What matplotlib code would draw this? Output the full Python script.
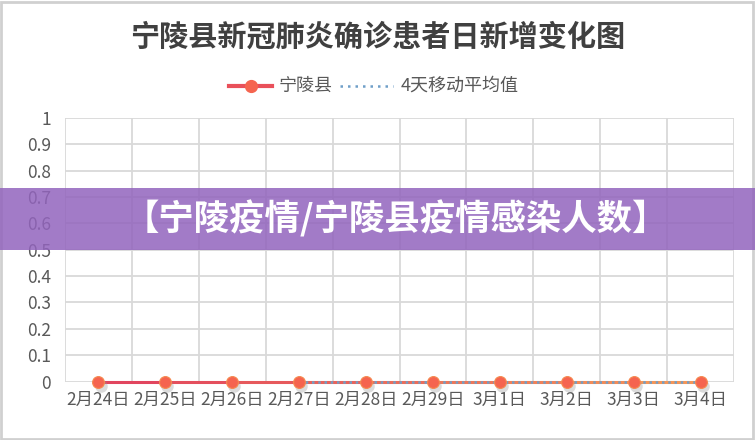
import numpy as np
import matplotlib
matplotlib.use("Agg")
import matplotlib.pyplot as plt
from matplotlib.patches import Rectangle
from matplotlib.lines import Line2D
from matplotlib.colors import to_rgb
import matplotlib.transforms as mtransforms

plt.rcParams['font.family'] = ['Noto Sans CJK SC', 'DejaVu Sans']

title = "宁陵县新冠肺炎确诊患者日新增变化图"
banner_text = "【宁陵疫情/宁陵县疫情感染人数】"
categories = ["2月24日", "2月25日", "2月26日", "2月27日", "2月28日",
              "2月29日", "3月1日", "3月2日", "3月3日", "3月4日"]
county_values = [0, 0, 0, 0, 0, 0, 0, 0, 0, 0]
moving_avg = [np.nan, np.nan, np.nan, 0, 0, 0, 0, 0, 0, 0]
y_ticks = [0, 0.1, 0.2, 0.3, 0.4, 0.5, 0.6, 0.7, 0.8, 0.9, 1]
y_tick_labels = ["0", "0.1", "0.2", "0.3", "0.4", "0.5", "0.6", "0.7", "0.8", "0.9", "1"]

W, H = 755, 440
fig = plt.figure(figsize=(W / 100, H / 100), dpi=100)
fig.patch.set_facecolor("white")

# outer frame
fig.patches.append(Rectangle((1 / W, 1 / H), 1 - 3 / W, 1 - 3 / H, transform=fig.transFigure,
                             fill=False, edgecolor="#d0d0d0", linewidth=2, zorder=0))

left, right, top, bottom = 65, 734, 118, 381.5
ax = fig.add_axes([left / W, 1 - bottom / H, (right - left) / W, (bottom - top) / H])
ax.set_facecolor("white")

n = len(categories)
x = np.arange(n)
ax.set_xlim(-0.5, n - 0.5)
ax.set_ylim(0, 1)

# grid
for yv in y_ticks[1:]:
    ax.axhline(yv, color="#d9d9d9", linewidth=1.3, zorder=1)
for xv in np.arange(-0.5, n, 1.0):
    ax.axvline(xv, color="#d9d9d9", linewidth=1.3, zorder=1)
ax.axhline(0, color="#d9d9d9", linewidth=1.3, zorder=1)

for s in ax.spines.values():
    s.set_visible(False)

ax.set_yticks(y_ticks)
ax.set_yticklabels(y_tick_labels, fontsize=12.5, color="#595959")
ax.set_xticks(x)
ax.set_xticklabels(categories, fontsize=12.5, color="#595959")
ax.tick_params(length=0, pad=7)
ax.tick_params(axis='y', pad=10)

# gradient line for series
c0 = np.array(to_rgb("#e0405e"))
c1 = np.array(to_rgb("#f79a55"))
for i in range(n - 1):
    t = (i + 0.5) / (n - 1)
    col = c0 * (1 - t) + c1 * t
    ax.plot(x[i:i + 2], county_values[i:i + 2], color=col, linewidth=2.2,
            solid_capstyle="butt", zorder=3, clip_on=False)

# moving average dotted
ax.plot(x, moving_avg, color="#6f9fc8", linewidth=1.8, linestyle=(0, (1, 1.5)),
        zorder=4, clip_on=False)

# marker shadows and markers
shadow = ax.transData + mtransforms.ScaledTranslation(1.5 / 72, -3 / 72, fig.dpi_scale_trans)
ax.plot(x, county_values, linestyle="none", marker="o", markersize=9,
        markerfacecolor="#9a9a9a", markeredgecolor="none", alpha=0.35, zorder=4,
        clip_on=False, transform=shadow)
ax.plot(x, county_values, linestyle="none", marker="o", markersize=8.5,
        markerfacecolor="#f5644f", markeredgecolor="#f58a50", markeredgewidth=0.8,
        zorder=5, clip_on=False)

# title
fig.text(0.5, 1 - 37 / H, title, ha="center", va="center", fontsize=21,
         fontweight="bold", color="#404040")

# legend
ly = 1 - 86 / H
fig.add_artist(Line2D([229 / W, 272 / W], [ly, ly], color="#e9505a", linewidth=3,
                      transform=fig.transFigure))
fig.add_artist(Line2D([251 / W], [ly], marker="o", markersize=8.5, color="#f5644f",
                      transform=fig.transFigure))
fig.text(279 / W, ly, "宁陵县", ha="left", va="center", fontsize=13, color="#595959")
fig.add_artist(Line2D([340 / W, 393 / W], [ly, ly], color="#6f9fc8", linewidth=1.8,
                      linestyle=(0, (1, 2)), transform=fig.transFigure))
fig.text(401 / W, ly, "4天移动平均值", ha="left", va="center", fontsize=13, color="#595959")

# banner
fig.patches.append(Rectangle((0, 1 - 250.5 / H), 1, 62 / H, transform=fig.transFigure,
                             facecolor="#9264bd", alpha=0.85, edgecolor="none", zorder=10))
fig.text(396 / W, 1 - 219 / H, banner_text, ha="center", va="center", fontsize=25.5,
         fontweight="bold", color="white", zorder=11)

fig.savefig("out.png", dpi=100, facecolor="white")
